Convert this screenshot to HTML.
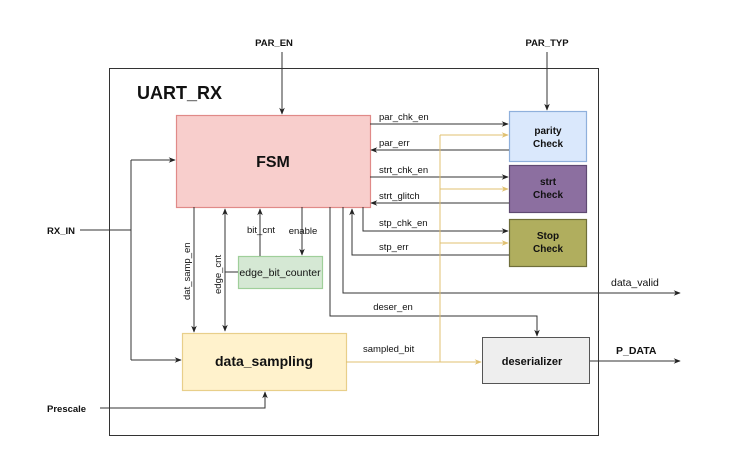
<!DOCTYPE html>
<html><head><style>
html,body{margin:0;padding:0;background:#fff;}
svg{display:block;font-family:"Liberation Sans",Arial,sans-serif;}
text{fill:#111;}
</style></head><body>
<svg width="730" height="472" viewBox="0 0 730 472" xmlns="http://www.w3.org/2000/svg">
<defs>
<marker id="a" viewBox="0 0 10 10" refX="9" refY="5" markerWidth="7" markerHeight="7" orient="auto-start-reverse"><path d="M0,1 L10,5 L0,9 L3,5 z" fill="#222"/></marker>
<marker id="y" viewBox="0 0 10 10" refX="9" refY="5" markerWidth="7" markerHeight="7" orient="auto"><path d="M0,1 L10,5 L0,9 L3,5 z" fill="#e0c070"/></marker>
</defs>
<rect x="0" y="0" width="730" height="472" fill="#fff"/>
<rect x="109.5" y="68.5" width="489" height="367" fill="none" stroke="#333" stroke-width="1"/>
<text x="137" y="99" font-size="18" font-weight="bold">UART_RX</text>

<rect x="176.5" y="115.5" width="194" height="92" fill="#f8cecc" stroke="#e08a88" stroke-width="1.2"/>
<text x="273" y="167" font-size="16" font-weight="bold" text-anchor="middle">FSM</text>
<rect x="509.5" y="111.5" width="77" height="50" fill="#dae8fc" stroke="#8fb0dc" stroke-width="1.2"/>
<text x="548" y="134" font-size="10" font-weight="bold" text-anchor="middle">parity</text>
<text x="548" y="147" font-size="10" font-weight="bold" text-anchor="middle">Check</text>
<rect x="509.5" y="165.5" width="77" height="47" fill="#8c6fa0" stroke="#5f4a72" stroke-width="1.2"/>
<text x="548" y="185" font-size="10" font-weight="bold" text-anchor="middle">strt</text>
<text x="548" y="198" font-size="10" font-weight="bold" text-anchor="middle">Check</text>
<rect x="509.5" y="219.5" width="77" height="47" fill="#b0ae5e" stroke="#6f6e3a" stroke-width="1.2"/>
<text x="548" y="239" font-size="10" font-weight="bold" text-anchor="middle">Stop</text>
<text x="548" y="252" font-size="10" font-weight="bold" text-anchor="middle">Check</text>
<rect x="238.5" y="256.5" width="84" height="32" fill="#d5e8d4" stroke="#9fcf9a" stroke-width="1.2"/>
<text x="280" y="276" font-size="10.5" text-anchor="middle">edge_bit_counter</text>
<rect x="182.5" y="333.5" width="164" height="57" fill="#fff2cc" stroke="#e8cf8a" stroke-width="1.2"/>
<text x="264" y="366" font-size="14" font-weight="bold" text-anchor="middle">data_sampling</text>
<rect x="482.5" y="337.5" width="107" height="46" fill="#eeeeee" stroke="#555" stroke-width="1"/>
<text x="532" y="365" font-size="11" font-weight="bold" text-anchor="middle">deserializer</text>

<g stroke="#333" stroke-width="1" fill="none">
<path d="M282 52 V114" marker-end="url(#a)"/>
<path d="M547 52 V110" marker-end="url(#a)"/>
<path d="M370 124 H508" marker-end="url(#a)"/>
<path d="M509 150 H371" marker-end="url(#a)"/>
<path d="M370 177 H508" marker-end="url(#a)"/>
<path d="M509 203 H371" marker-end="url(#a)"/>
<path d="M363 207 V231 H508" marker-end="url(#a)"/>
<path d="M509 255 H352 V209" marker-end="url(#a)"/>
<path d="M343 207 V293 H680" marker-end="url(#a)"/>
<path d="M330 207 V316 H537 V336" marker-end="url(#a)"/>
<path d="M590 361 H680" marker-end="url(#a)"/>
<path d="M80 230 H131"/>
<path d="M131 160 V360"/>
<path d="M131 160 H175" marker-end="url(#a)"/>
<path d="M131 360 H181" marker-end="url(#a)"/>
<path d="M194 207 V332" marker-end="url(#a)"/>
<path d="M225 209 V331" marker-start="url(#a)" marker-end="url(#a)"/>
<path d="M225 272 H238"/>
<path d="M260 256 V209" marker-end="url(#a)"/>
<path d="M302 207 V255" marker-end="url(#a)"/>
<path d="M100 408 H265 V392" marker-end="url(#a)"/>
</g>
<g stroke="#e0c070" stroke-width="1" fill="none">
<path d="M346 362 H481" marker-end="url(#y)"/>
<path d="M440 362 V135"/>
<path d="M440 135 H508" marker-end="url(#y)"/>
<path d="M440 189 H508" marker-end="url(#y)"/>
<path d="M440 243 H508" marker-end="url(#y)"/>
</g>

<g font-size="9.5">
<text x="274" y="46" font-weight="bold" text-anchor="middle">PAR_EN</text>
<text x="547" y="46" font-weight="bold" text-anchor="middle">PAR_TYP</text>
<text x="379" y="120">par_chk_en</text>
<text x="379" y="146">par_err</text>
<text x="379" y="173">strt_chk_en</text>
<text x="379" y="199">strt_glitch</text>
<text x="379" y="226">stp_chk_en</text>
<text x="379" y="250">stp_err</text>
<text x="261" y="233" text-anchor="middle">bit_cnt</text>
<text x="303" y="234" text-anchor="middle">enable</text>
<text x="393" y="310" text-anchor="middle">deser_en</text>
<text x="363" y="352">sampled_bit</text>
<text x="47" y="234" font-weight="bold">RX_IN</text>
<text x="47" y="412" font-weight="bold">Prescale</text>
<text x="611" y="286" font-size="10.5">data_valid</text>
<text x="616" y="354" font-size="10.5" font-weight="bold">P_DATA</text>
<text transform="translate(190,300) rotate(-90)">dat_samp_en</text>
<text transform="translate(221,294) rotate(-90)">edge_cnt</text>
</g>
</svg>
</body></html>
